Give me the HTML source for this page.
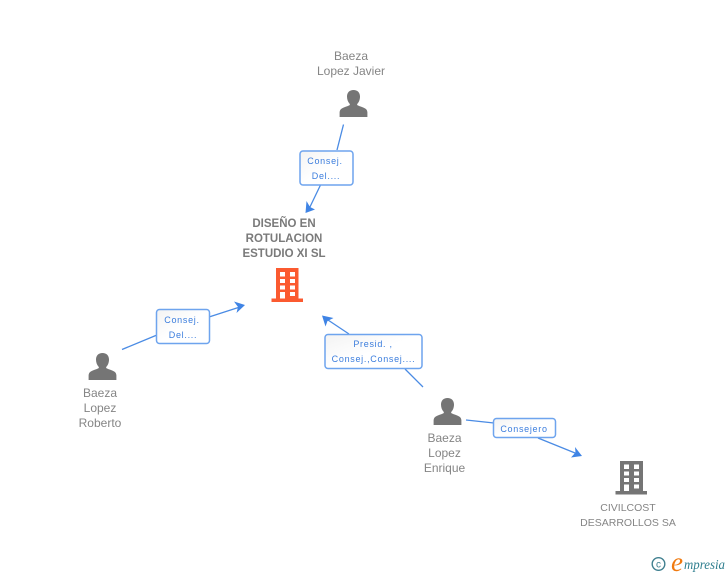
<!DOCTYPE html>
<html>
<head>
<meta charset="utf-8">
<style>
html,body{margin:0;padding:0;background:#fff}
svg{display:block}
text{font-family:"Liberation Sans",sans-serif}
.n{font-size:12px;fill:#858585;text-anchor:middle}
.b{font-size:11.500px;font-weight:bold;fill:#7a7a7a;text-anchor:middle}
.c{font-size:10.500px;fill:#858585;text-anchor:middle}
.l{font-size:9px;fill:#3b7ddd;text-anchor:middle;letter-spacing:.7px}
.e{stroke:#4a8be4;stroke-width:1.300;fill:none}
.a{fill:#3f84e5}
.r{fill:url(#g);stroke:#6ea4ee;stroke-width:1.500}
</style>
</head>
<body>
<svg width="728" height="575" viewBox="0 0 728 575" xmlns="http://www.w3.org/2000/svg">
<defs>
<linearGradient id="g" x1="0" y1="0" x2="1" y2="1"><stop offset="0" stop-color="#f3f3f3"/><stop offset=".5" stop-color="#fff"/><stop offset="1" stop-color="#fff"/></linearGradient>
<symbol id="p" viewBox="0 0 28 28" overflow="visible">
<path d="M14 0c4 0 6.500 2.600 6.500 6.600 0 2.800-1 5.400-2.500 7-.6.7-.5 1.400.3 1.800 2 1 5 1.800 7.200 3 1.600.9 2.300 2.200 2.400 4V27H.1v-4.600c.1-1.800.8-3.100 2.400-4 2.200-1.200 5.200-2 7.200-3 .8-.4.9-1.100.3-1.800-1.500-1.600-2.500-4.200-2.500-7C7.500 2.600 10 0 14 0z" fill="#757575"/>
</symbol>
</defs>

<!-- connectors -->
<path class="e" d="M343.500 124.500 L337 150 M320.500 185 L308 211"/>
<path class="a" d="M305.500 213 L306.500 201 L310 207 L315 209.500Z"/>
<path class="e" d="M122 349.500 L157 335 M209 317 L243 306"/>
<path class="a" d="M245 305 L234 301.500 L238 307 L236.500 313Z"/>
<path class="e" d="M423 387 L405 369 M349 334 L325 318"/>
<path class="a" d="M322 315.500 L333.500 318 L327.500 321 L325.500 326.500Z"/>
<path class="e" d="M466 420 L494 423 M538 438 L580 455"/>
<path class="a" d="M582 456 L575 447 L575.500 452.500 L571 457.500Z"/>

<!-- label boxes -->
<rect class="r" x="300" y="151" width="53" height="34" rx="3"/>
<text class="l" x="325" y="164">Consej.</text>
<text class="l" x="326" y="179">Del....</text>

<rect class="r" x="156.500" y="309.500" width="53" height="34" rx="3"/>
<text class="l" x="182" y="323">Consej.</text>
<text class="l" x="183" y="338">Del....</text>

<rect class="r" x="325" y="334.500" width="97" height="34" rx="3"/>
<text class="l" x="373" y="347">Presid. ,</text>
<text class="l" x="373.500" y="362">Consej.,Consej....</text>

<rect class="r" x="493.500" y="418.500" width="62" height="19" rx="3"/>
<text class="l" x="524" y="432">Consejero</text>

<!-- people -->
<use href="#p" x="339.500" y="90" width="28" height="28"/>
<use href="#p" x="88.500" y="353" width="28" height="28"/>
<use href="#p" x="433.500" y="398" width="28" height="28"/>

<!-- orange building -->
<path fill="#fb5a30" fill-rule="evenodd" d="M276 268H298.500V298.500H303V302H271.500V298.500H276ZM280 272V276.500H285V272ZM290 272V276.500H295V272ZM280 279V283H285V279ZM290 279V283H295V279ZM280 285.500V289.500H285V285.500ZM290 285.500V289.500H295V285.500ZM280 292V298.500H285V292ZM290 292V296H295V292Z"/>

<!-- grey building -->
<path fill="#757575" fill-rule="evenodd" d="M620 461H643V491H647V494.500H615.500V491H620ZM624 464.500V469H629V464.500ZM634 464.500V469H639V464.500ZM624 471.500V475.500H629V471.500ZM634 471.500V475.500H639V471.500ZM624 478V482H629V478ZM634 478V482H639V478ZM624 484.500V491H629V484.500ZM634 484.500V488.500H639V484.500Z"/>

<!-- names -->
<text class="n" x="351" y="60">Baeza</text>
<text class="n" x="351" y="75">Lopez Javier</text>
<text class="b" x="284" y="227">DISEÑO EN</text>
<text class="b" x="284" y="242">ROTULACION</text>
<text class="b" x="284" y="257">ESTUDIO XI SL</text>
<text class="n" x="100" y="397">Baeza</text>
<text class="n" x="100" y="412">Lopez</text>
<text class="n" x="100" y="427">Roberto</text>
<text class="n" x="444.500" y="442">Baeza</text>
<text class="n" x="444.500" y="457">Lopez</text>
<text class="n" x="444.500" y="472">Enrique</text>
<text class="c" x="628" y="511">CIVILCOST</text>
<text class="c" x="628" y="526">DESARROLLOS SA</text>

<!-- footer logo -->
<circle cx="658.500" cy="564" r="6.300" fill="none" stroke="#3f7f8f" stroke-width="1.400"/>
<text x="658.500" y="567.500" style="font-size:10px;fill:#3f7f8f" text-anchor="middle">c</text>
<text x="671" y="571" style="font-family:'Liberation Serif',serif;font-style:italic;font-size:27px;fill:#f07a10">e</text>
<text x="684" y="569" textLength="41" lengthAdjust="spacingAndGlyphs" style="font-family:'Liberation Serif',serif;font-style:italic;font-size:14px;fill:#2f7f8f">mpresia</text>
</svg>
</body>
</html>
